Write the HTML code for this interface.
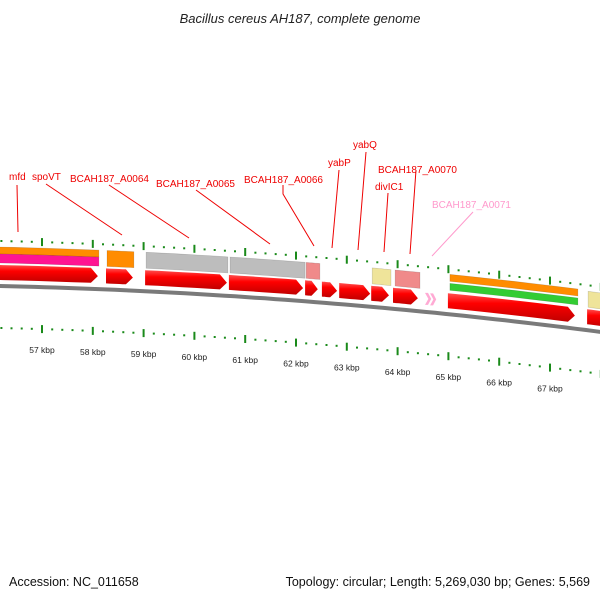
<!DOCTYPE html>
<html><head><meta charset="utf-8"><style>
body{margin:0;background:#fff;}
svg{display:block;font-family:"Liberation Sans","DejaVu Sans",sans-serif;}
</style></head><body>
<svg id="c" width="600" height="600" viewBox="0 0 600 600">
<defs>
<linearGradient id="gR" x1="0" y1="0" x2="0" y2="1"><stop offset="0" stop-color="#ff5050"/><stop offset="0.35" stop-color="#ff0000"/><stop offset="1" stop-color="#c00000"/></linearGradient>
</defs>
<text x="300" y="23" text-anchor="middle" font-size="13" font-style="italic" fill="#222">Bacillus cereus AH187, complete genome</text>
<text x="9" y="586" font-size="12.5" fill="#111">Accession: NC_011658</text>
<text x="590" y="586" text-anchor="end" font-size="12.5" fill="#111">Topology: circular; Length: 5,269,030 bp; Genes: 5,569</text>
<g id="layer"></g>
</svg>
<script>
const kbpLabels=[57,58,59,60,61,62,63,64,65,66,67];
const geneStart=[55.9,58.26,59.03,60.68,62.18,62.51,62.85,63.48,63.91,64.54,64.99,67.73];
const geneEnd=[58.10,58.79,60.64,62.14,62.43,62.81,63.46,63.83,64.40,64.76,67.49,68.3];
const geneColor=["red","red","red","red","red","red","red","red","red","pink","red","red"];
const featStart=[55.9,58.28,59.05,60.70,62.20,63.50,63.95,65.03,67.75];
const featEnd=[58.12,58.81,60.66,62.18,62.47,63.87,64.44,67.55,68.3];
const featType=["orange-pink","orange","grey","grey","salmon","yellow","salmon","orange-green","yellow"];
const labelText=["mfd","spoVT","BCAH187_A0064","BCAH187_A0065","BCAH187_A0066","yabP","yabQ","BCAH187_A0070","divIC1","BCAH187_A0071"];

const svg=document.getElementById('layer');
const NS='http://www.w3.org/2000/svg';
function X(k){return 42+(k-57)*50.8;}
function Y(x){return 286+0.023*x+0.000089*x*x;}
function el(t,a){const e=document.createElementNS(NS,t);for(const k in a)e.setAttribute(k,a[k]);svg.appendChild(e);return e;}
function band(x0,x1,o0,o1){let p=[];for(let j=0;j<=8;j++){const x=x0+(x1-x0)*j/8;p.push([x,Y(x)+o0]);}for(let j=8;j>=0;j--){const x=x0+(x1-x0)*j/8;p.push([x,Y(x)+o1]);}return p.map(q=>q[0].toFixed(1)+','+q[1].toFixed(1)).join(' ');}

let bb=[];for(let x=-5;x<=605;x+=10)bb.push(x+','+(Y(x)).toFixed(1));
let back=el('polyline',{points:bb.join(' '),fill:'none',stroke:'#7a7a7a','stroke-width':4});



for(let i=0;i<=80;i++){
  const k=54+i*0.2;const major=Math.abs(k-Math.round(k))<0.01;
  const x=X(k);if(x<-5||x>605)continue;
  [-45,42].forEach(off=>{
    const y=Y(x)+off;
    const t=el('rect',{x:(x-1).toFixed(1),y:(major?y-4:y-1).toFixed(1),width:2,height:major?8:2,fill:'#1a8a1a'});
    
    
  });
}
kbpLabels.forEach(k=>{
  const x=X(k);
  const t=el('text',{x:x.toFixed(1),y:(Y(x)+66).toFixed(1),'text-anchor':'middle','font-size':8.5,fill:'#222'});
  t.textContent=k+' kbp';
  
  
});

const fc={orange:'#ff8c00',pink:'#ff1493',grey:'#bdbdbd',salmon:'#f08a8a',yellow:'#efe49a',green:'#33cc33'};
featType.forEach((t,i)=>{
  const x0=X(featStart[i]),x1=X(featEnd[i]);
  let parts;
  if(t==='orange-pink')parts=[['orange',-39,-32],['pink',-32,-23]];
  else if(t==='orange-green')parts=[['orange',-40,-33],['green',-31,-24]];
  else parts=[[t,-39,-23]];
  parts.forEach(p=>{
    const e=el('polygon',{points:band(x0,x1,p[1],p[2]),fill:fc[p[0]],stroke:'rgba(0,0,0,0.18)','stroke-width':0.6});
    
    
  });
});

geneStart.forEach((s,i)=>{
  const x0=X(s),x1=X(geneEnd[i]);
  const isPink=geneColor[i]==='pink';
  if(isPink){
    const w=(x1-x0)/2;
    [0,1].forEach(j=>{
      const a=x0+j*w*0.9,b=a+w*1.1,yb=Y(a);
      const e=el('polygon',{points:`${a.toFixed(1)},${(yb-19).toFixed(1)} ${(a+3).toFixed(1)},${(yb-19).toFixed(1)} ${b.toFixed(1)},${(yb-13).toFixed(1)} ${(a+3).toFixed(1)},${(yb-7).toFixed(1)} ${a.toFixed(1)},${(yb-7).toFixed(1)} ${(a+w*0.6).toFixed(1)},${(yb-13).toFixed(1)}`,fill:'#ffaad4'});
      
      
    });
    return;
  }
  const tip=Math.min(7,(x1-x0)*0.5);
  const ym=Y(x1)-13;
  let pts=[];
  const xb=x1-tip;
  for(let j=0;j<=6;j++){const x=x0+(xb-x0)*j/6;pts.push([x,Y(x)-21]);}
  pts.push([x1,ym]);
  for(let j=6;j>=0;j--){const x=x0+(xb-x0)*j/6;pts.push([x,Y(x)-6]);}
  const e=el('polygon',{points:pts.map(q=>q[0].toFixed(1)+','+q[1].toFixed(1)).join(' '),fill:'url(#gR)'});
  
  
});

const labPos=[[9,180],[32,180],[70,182],[156,187],[244,183],[328,166],[353,148],[378,173],[375,190],[432,208]];
const leaders=[[[17,185],[18,232]],[[46,184],[122,235]],[[109,185],[189,238]],[[196,190],[270,244]],[[283,185],[283,194],[314,246]],[[339,170],[332,248]],[[366,152],[358,250]],[[416,170],[410,254]],[[388,193],[384,252]],[[473,212],[432,256]]];
labelText.forEach((t,i)=>{
  const col=i===9?'#ff99cc':'#ee0000';
  const tx=el('text',{x:labPos[i][0],y:labPos[i][1],'font-size':10,fill:col});
  tx.textContent=t;
  
  
  const ln=el('polyline',{points:leaders[i].map(p=>p.join(',')).join(' '),fill:'none',stroke:col,'stroke-width':1});
  
  
});
</script>
</body></html>
